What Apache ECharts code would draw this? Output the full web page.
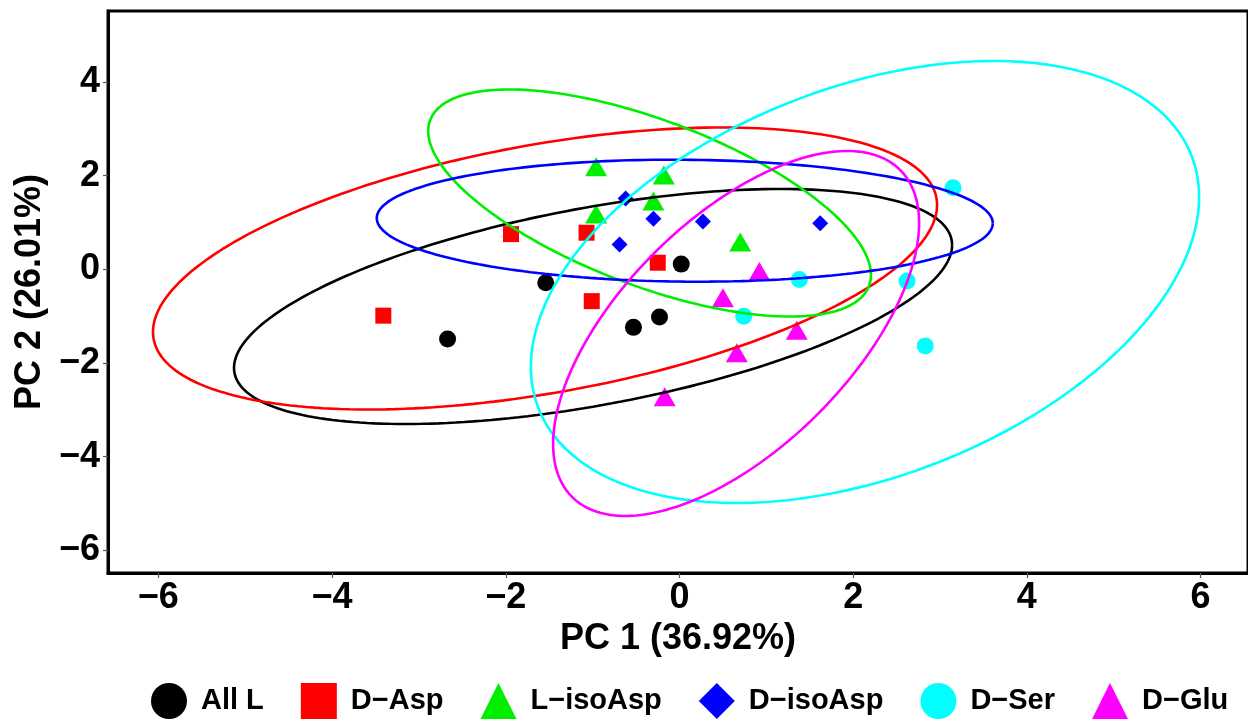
<!DOCTYPE html>
<html>
<head>
<meta charset="utf-8">
<script src="https://cdn.jsdelivr.net/npm/echarts@6/dist/echarts.min.js"></script>
<style>html,body{margin:0;padding:0;background:#fff;}#chart{width:1248px;height:721px;}</style>
</head>
<body>
<div id="chart"></div>
<script>
// ---- data ----
const groupNames = ['All L', 'D\u2212Asp', 'L\u2212isoAsp', 'D\u2212isoAsp', 'D\u2212Ser', 'D\u2212Glu'];
const groupColors = ['#000000', '#ff0000', '#00ee00', '#0000ff', '#00ffff', '#ff00ff'];
const groupSymbols = ['circle', 'rect', 'triangle', 'diamond', 'circle', 'triangle'];

const allL = [[-2.67, -1.49], [-1.54, -0.29], [-0.53, -1.24], [-0.23, -1.02], [0.02, 0.11]];
const dAsp = [[-3.41, -0.99], [-1.94, 0.75], [-1.07, 0.78], [-0.25, 0.14], [-1.01, -0.68]];
const lIsoAsp = [[-0.96, 2.19], [-0.18, 2.01], [-0.30, 1.46], [-0.96, 1.18], [0.70, 0.58]];
const dIsoAsp = [[-0.62, 1.51], [-0.30, 1.08], [0.27, 1.02], [-0.69, 0.53], [1.62, 0.98]];
const dSer = [[1.38, -0.22], [0.74, -1.00], [3.15, 1.74], [2.62, -0.25], [2.83, -1.64]];
const dGlu = [[0.92, -0.05], [0.50, -0.61], [1.35, -1.30], [0.66, -1.78], [-0.17, -2.72]];
const groupPoints = [allL, dAsp, lIsoAsp, dIsoAsp, dSer, dGlu];

// confidence ellipses: centre, right-most point, half height (data units)
const ellipseCenterX = [-0.995, -1.548, -0.344, 0.061, 2.136, 0.652];
const ellipseCenterY = [-0.794, 0.017, 1.415, 1.037, -0.271, -1.370];
const ellipseRightX = [3.139, 2.966, 2.205, 3.608, 5.983, 2.759];
const ellipseRightY = [0.516, 1.372, -0.121, 0.982, 1.543, 0.990];
const ellipseHalfHeight = [2.508, 3.010, 2.423, 1.302, 4.717, 3.895];

const xTicks = [-6, -4, -2, 0, 2, 4, 6];
const yTicks = [-6, -4, -2, 0, 2, 4];
const xTitle = 'PC 1 (36.92%)';
const yTitle = 'PC 2 (26.01%)';

// ---- build ----
function ellipsePath(i) {
  const cx = ellipseCenterX[i], cy = ellipseCenterY[i];
  const ax = ellipseRightX[i] - cx, ay = ellipseRightY[i] - cy;
  const H = ellipseHalfHeight[i];
  const h = Math.sqrt(Math.max(H * H - ay * ay, 0));
  const pts = [];
  const n = 240;
  for (let k = 0; k <= n; k++) {
    const t = 2 * Math.PI * k / n;
    pts.push([cx + ax * Math.cos(t), cy + ay * Math.cos(t) + h * Math.sin(t)]);
  }
  return pts;
}

const symbolSizes = [17, 16, [22, 19], 16, 17, [22, 19]];
const series = [];
groupNames.forEach((name, i) => {
  series.push({
    name: name,
    type: 'scatter',
    data: groupPoints[i],
    symbol: groupSymbols[i],
    symbolSize: symbolSizes[i],
    itemStyle: { color: groupColors[i], opacity: 1 },
    z: 2
  });
});
groupNames.forEach((name, i) => {
  series.push({
    name: name + ' ellipse',
    type: 'line',
    data: ellipsePath(i),
    showSymbol: false,
    symbol: 'none',
    smooth: false,
    lineStyle: { color: groupColors[i], width: 2.6 },
    z: 3,
    silent: true
  });
});

const font = 'Liberation Sans, Arial, sans-serif';
const chart = echarts.init(document.getElementById('chart'), null, { renderer: 'canvas' });
chart.setOption({
  animation: false,
  backgroundColor: '#ffffff',
  grid: { left: 108, right: 0, top: 11, bottom: 148, show: true, borderColor: '#000', borderWidth: 3, backgroundColor: 'transparent' },
  xAxis: {
    type: 'value', min: -6.58, max: 6.546,
    name: xTitle, nameLocation: 'middle', nameGap: 32,
    nameTextStyle: { fontFamily: font, fontWeight: 'bold', fontSize: 36, color: '#000' },
    axisLine: { show: true, onZero: false, lineStyle: { color: '#000', width: 3 } },
    axisTick: { show: true, customValues: xTicks, length: 5, lineStyle: { color: '#555', width: 1.2 } },
    axisLabel: { customValues: xTicks, margin: 7, fontFamily: font, fontWeight: 'bold', fontSize: 36, color: '#000',
      formatter: v => (v < 0 ? '\u2212' + Math.abs(v) : String(v)) },
    splitLine: { show: false }
  },
  yAxis: {
    type: 'value', min: -6.483, max: 5.513,
    name: yTitle, nameLocation: 'middle', nameGap: 54, nameRotate: 90,
    nameTextStyle: { fontFamily: font, fontWeight: 'bold', fontSize: 36, color: '#000' },
    axisLine: { show: true, onZero: false, lineStyle: { color: '#000', width: 3 } },
    axisTick: { show: true, customValues: yTicks, length: 5, lineStyle: { color: '#555', width: 1.2 } },
    axisLabel: { customValues: yTicks, margin: 8, fontFamily: font, fontWeight: 'bold', fontSize: 36, color: '#000',
      formatter: v => (v < 0 ? '\u2212' + Math.abs(v) : String(v)) },
    splitLine: { show: false }
  },
  legend: {
    data: groupNames,
    left: 151, top: 683, padding: 0,
    itemWidth: 36, itemHeight: 36, itemGap: 37,
    textStyle: { fontFamily: font, fontWeight: 'bold', fontSize: 29, color: '#000', padding: [0, 0, 0, 9] },
    selectedMode: false
  },
  series: series
});
</script>
</body>
</html>
